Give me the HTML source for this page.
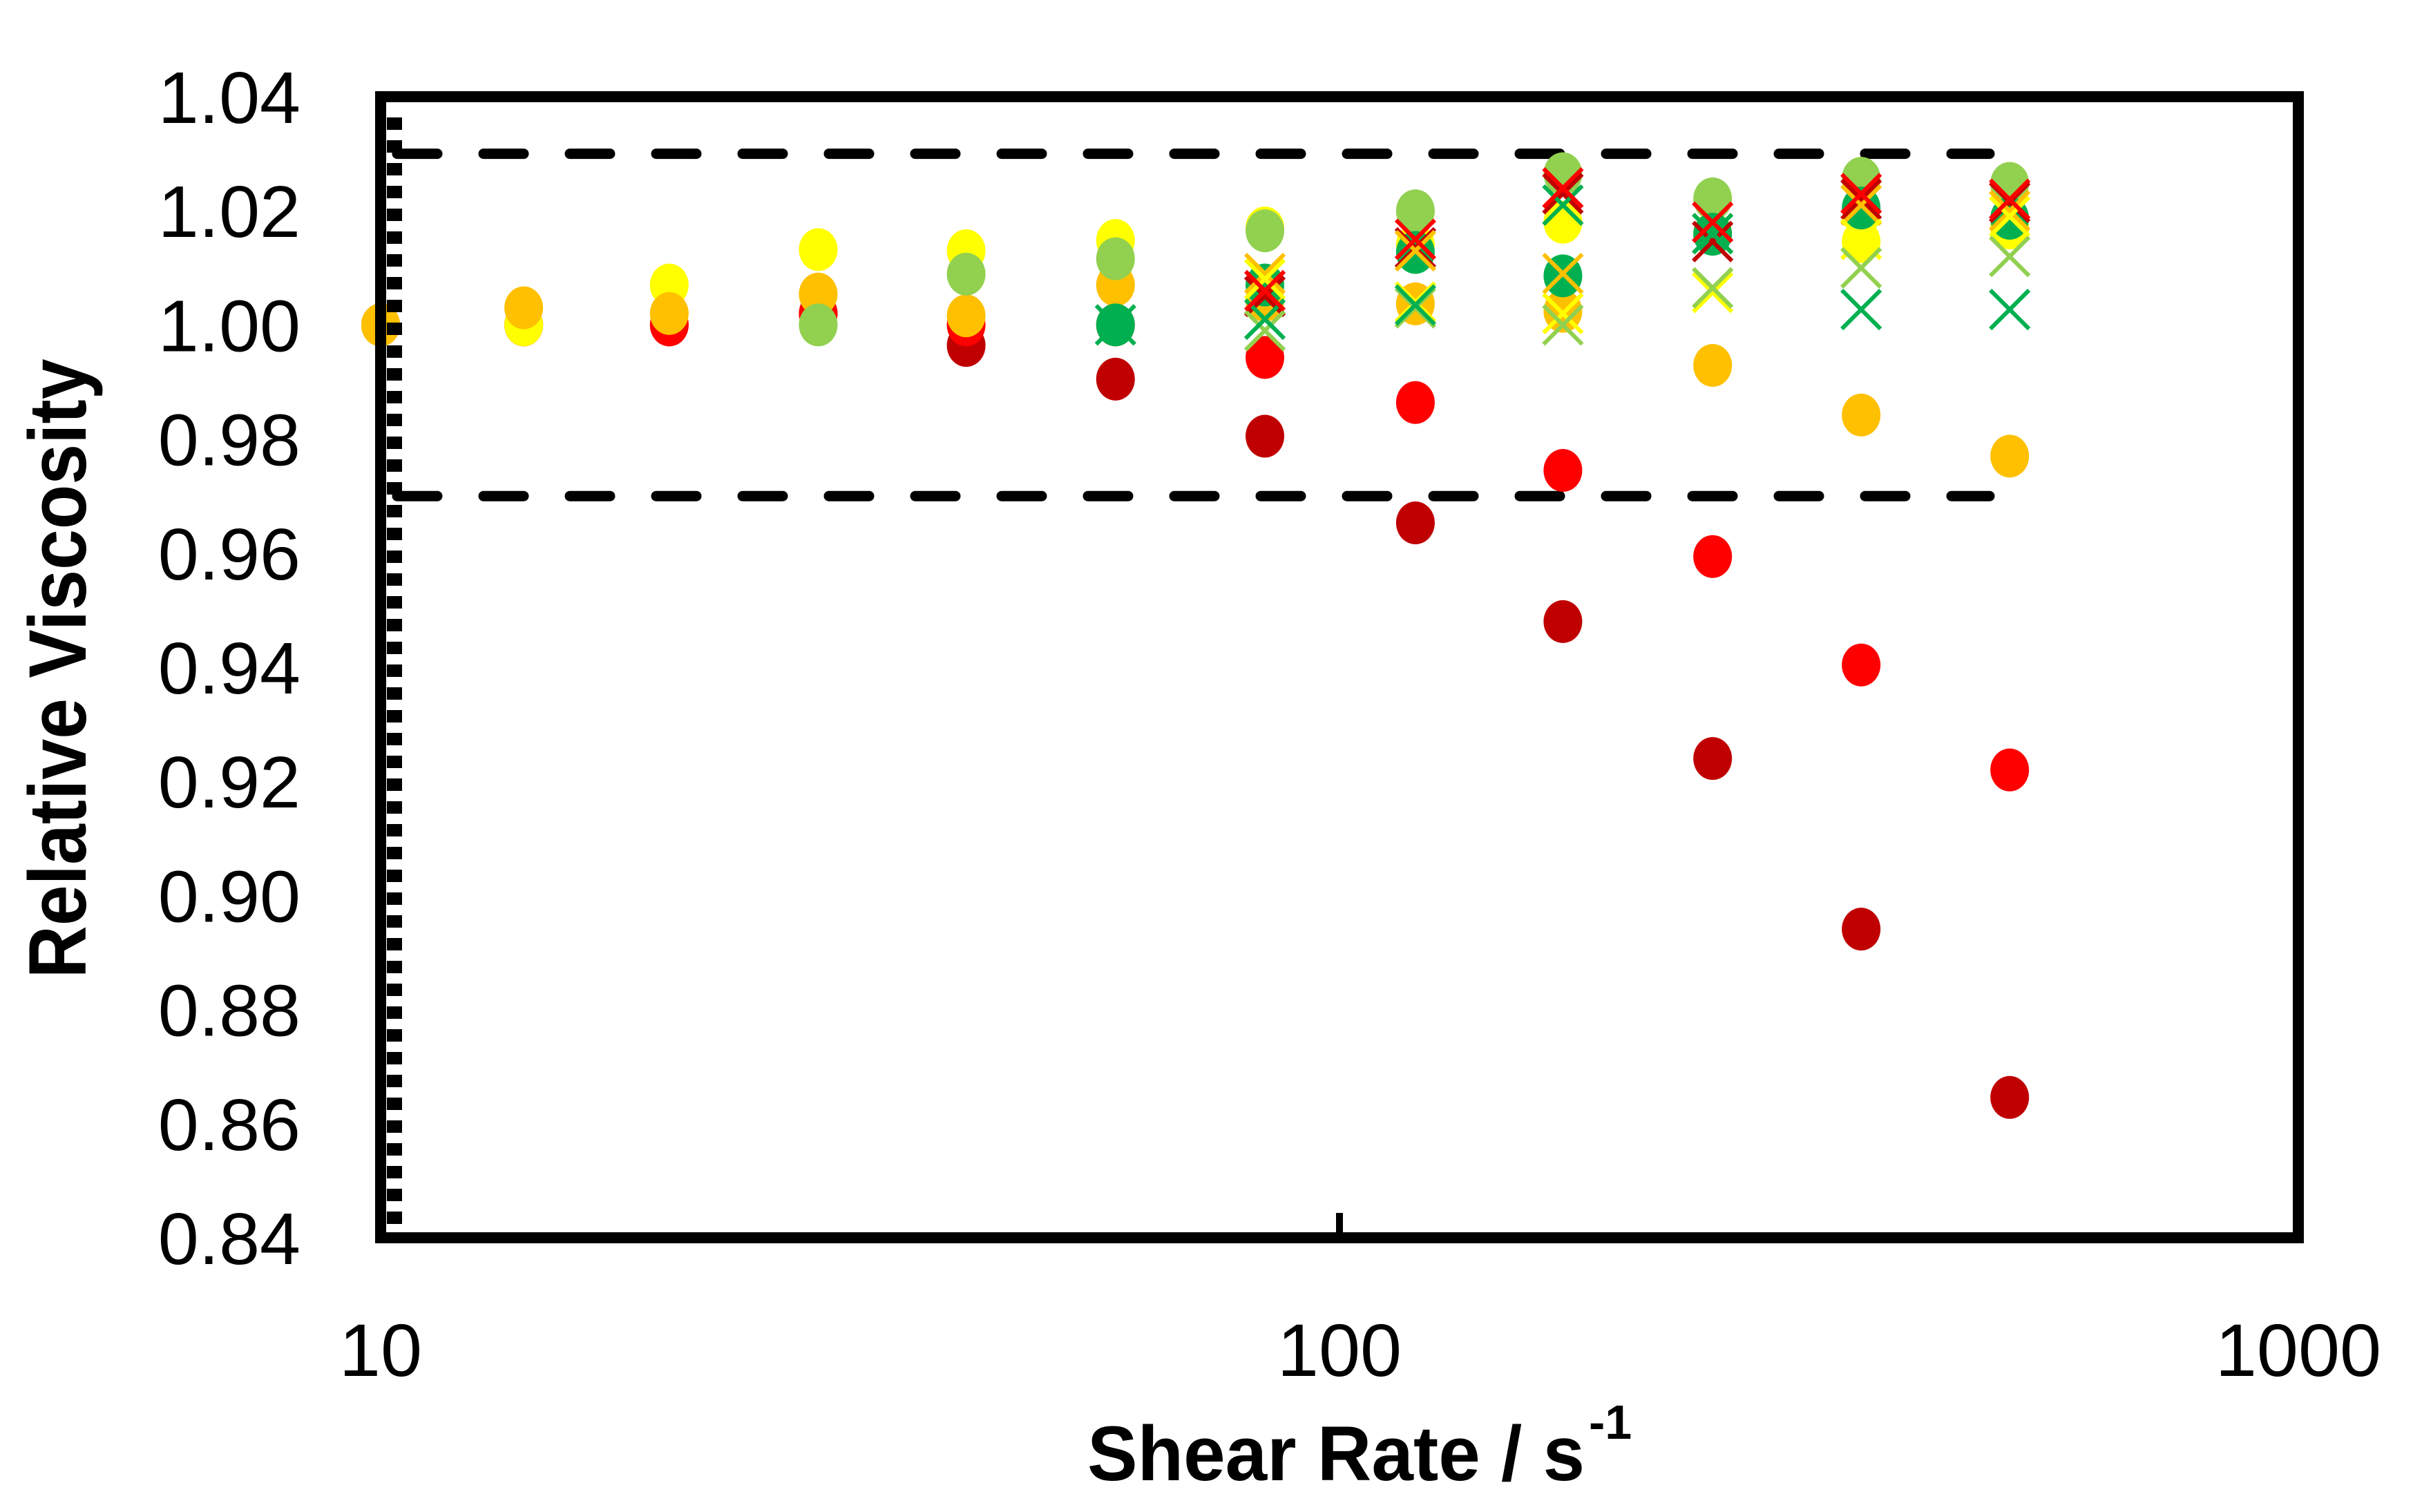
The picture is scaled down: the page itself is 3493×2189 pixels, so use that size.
<!DOCTYPE html>
<html><head><meta charset="utf-8"><style>
html,body{margin:0;padding:0;background:#fff;}
svg{display:block;}
text{font-family:"Liberation Sans",sans-serif;fill:#000;}
</style></head><body>
<svg id="chart" width="3493" height="2189" viewBox="0 0 3493 2189" xmlns="http://www.w3.org/2000/svg">
<rect x="0" y="0" width="3493" height="2189" fill="#fff"/>
<g id="marks"></g>
<g id="axes"></g>
<text x="93" y="968" font-weight="bold" font-size="118" text-anchor="middle" dominant-baseline="middle" transform="rotate(-90 93 968)" textLength="897" lengthAdjust="spacingAndGlyphs">Relative Viscosity</text>
<text x="1574" y="2143" font-weight="bold" font-size="112" textLength="720" lengthAdjust="spacingAndGlyphs">Shear Rate / s</text>
<text x="2300" y="2083" font-weight="bold" font-size="70">-1</text>
</svg>
<script>
const shearRates = [10, 14.1, 20, 28.6, 40.8, 58.4, 83.6, 120, 171, 245, 350, 500];
const yTicks = [1.04, 1.02, 1.00, 0.98, 0.96, 0.94, 0.92, 0.90, 0.88, 0.86, 0.84];
const yTickLabels = ["1.04","1.02","1.00","0.98","0.96","0.94","0.92","0.90","0.88","0.86","0.84"];
const xTicks = [10, 100, 1000];
const xTickLabels = ["10","100","1000"];
const limitValues = [1.03, 0.97];
const circleColors = ["#C00000","#FF0000","#FFFF00","#FFC000","#92D050","#00B050"];
const circleNames = ["dark-red","red","yellow","orange","light-green","green"];
const darkRedVals = [1.000,1.000,1.000,1.002,0.9964,0.9905,0.9805,0.9653,0.948,0.924,0.8941,0.8646];
const redVals = [1.000,1.000,1.000,1.002,1.000,1.000,0.9943,0.9864,0.9745,0.9594,0.9404,0.922];
const yellowVals = [1.000,1.000,1.007,1.0132,1.013,1.0148,1.017,1.014,1.018,1.016,1.0146,1.017];
const orangeVals = [1.000,1.003,1.002,1.0054,1.0016,1.007,1.0043,1.0037,1.0024,0.9929,0.9842,0.977];
const lightGreenVals = [null,null,null,1.000,1.0089,1.0116,1.0165,1.020,1.0265,1.0221,1.0257,1.0248];
const greenVals = [null,null,null,null,null,1.000,1.007,1.0127,1.0086,1.0159,1.0205,1.0187];
const crossRates = [58.4, 83.6, 120, 171, 245, 350, 500];
const crossColors = ["#C00000","#FFC000","#FFFF00","#92D050","#00B050","#FF0000"];
const crossNames = ["dark-red","orange","yellow","light-green","green","red"];
const xDarkRedVals = [null,1.005,1.0135,1.023,1.0146,1.022,1.0215];
const xOrangeVals = [null,1.009,1.013,1.009,1.016,1.021,1.020];
const xYellowVals = [null,1.008,1.004,1.002,1.0057,1.015,1.019];
const xLightGreenVals = [null,0.999,1.003,1.000,1.0065,1.010,1.012];
const xGreenVals = [1.000,1.001,1.0035,1.021,1.016,1.0027,1.0027];
const xRedVals = [null,1.006,1.015,1.024,1.018,1.023,1.022];

const NS = "http://www.w3.org/2000/svg";
const L = 551, R = 3327, T = 140, B = 1792;
function xs(v){ return L + Math.log10(v/10) * (R - L) / 2; }
function ys(v){ return T + (1.04 - v) / 0.2 * (B - T); }
function mk(tag, attrs, parent){ const e = document.createElementNS(NS, tag); for (const k in attrs) e.setAttribute(k, attrs[k]); parent.appendChild(e); return e; }
const marks = document.getElementById('marks');
const axes = document.getElementById('axes');

limitValues.forEach((v, i) => {
  const ln = mk('line', {x1: 575, x2: 2880, y1: ys(v), y2: ys(v), stroke: '#000', 'stroke-width': 15, 'stroke-dasharray': '58 67', 'stroke-linecap': 'round'}, marks);
  
  
});

const circleSeries = [darkRedVals, redVals, yellowVals, orangeVals, lightGreenVals, greenVals];
circleSeries.forEach((arr, si) => {
  const g = mk('g', {}, marks);
  
  
  arr.forEach((v, i) => {
    if (v === null) return;
    const c = mk('ellipse', {cx: xs(shearRates[i]), cy: ys(v), rx: 28, ry: 31, fill: circleColors[si]}, g);
    
    
  });
});

const crossSeries = [xDarkRedVals, xOrangeVals, xYellowVals, xLightGreenVals, xGreenVals, xRedVals];
crossSeries.forEach((arr, si) => {
  const g = mk('g', {}, marks);
  
  
  arr.forEach((v, i) => {
    if (v === null) return;
    const cx = xs(crossRates[i]), cy = ys(v), h = 28;
    const p = mk('path', {d: `M${cx-h} ${cy-h}L${cx+h} ${cy+h}M${cx+h} ${cy-h}L${cx-h} ${cy+h}`, stroke: crossColors[si], 'stroke-width': 6, fill: 'none'}, g);
    
    
  });
});

const mt = mk('line', {x1: 571, x2: 571, y1: T + 30, y2: B - 10, stroke: '#000', 'stroke-width': 22, 'stroke-dasharray': '18 15'}, axes);


const fr = mk('rect', {x: L, y: T, width: R - L, height: B - T, fill: 'none', stroke: '#000', 'stroke-width': 16}, axes);


const xt = mk('line', {x1: xs(100), x2: xs(100), y1: B - 36, y2: B, stroke: '#000', 'stroke-width': 10}, axes);



yTicks.forEach((v, i) => {
  const t = mk('text', {x: 435, y: ys(v) + 38, 'font-size': 106, 'text-anchor': 'end'}, axes);
  t.textContent = yTickLabels[i];
  
  
});
xTicks.forEach((v, i) => {
  const t = mk('text', {x: xs(v), y: 1992, 'font-size': 108, 'text-anchor': 'middle'}, axes);
  t.textContent = xTickLabels[i];
  
  
});
</script>
</body></html>
